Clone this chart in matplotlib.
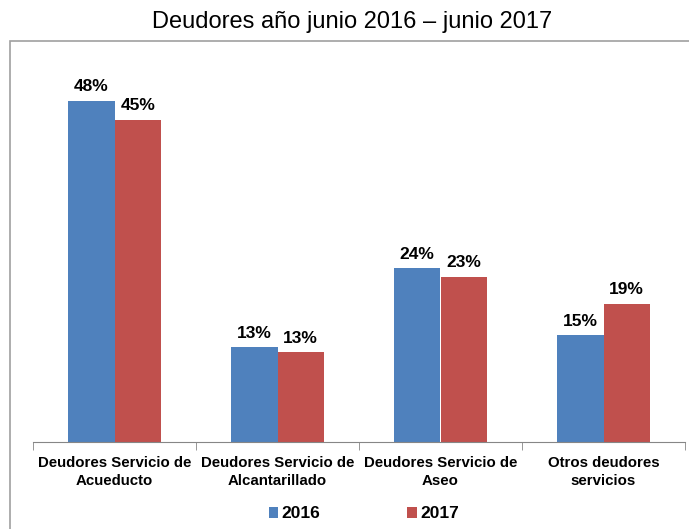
import numpy as np
import matplotlib.pyplot as plt
from matplotlib.patches import Rectangle

plt.rcParams['font.family'] = ['Liberation Sans', 'DejaVu Sans']

categorias = ["Deudores Servicio de\nAcueducto", "Deudores Servicio de\nAlcantarillado",
              "Deudores Servicio de\nAseo", "Otros deudores\nservicios"]
v2016 = [47.9, 13.3, 24.4, 15.0]
v2017 = [45.2, 12.6, 23.2, 19.4]
series = ["2016", "2017"]
colores = ["#4F81BD", "#C0504D"]

fig = plt.figure(figsize=(6.89, 5.29), dpi=100)
W, H = 689, 529

# marco gris del grafico (cortado a la derecha y abajo)
fig.patches.append(Rectangle((10 / W, -0.1), 1.2, 1.1 - 41 / H,
                             transform=fig.transFigure, fill=False,
                             edgecolor="#A0A0A0", linewidth=1.2))

ax = fig.add_axes([33 / W, (H - 442) / H, 652 / W, 382 / H])
x = np.arange(len(categorias))
w = 0.285
b1 = ax.bar(x - w / 2, v2016, w, color=colores[0], label=series[0])
b2 = ax.bar(x + w / 2, v2017, w, color=colores[1], label=series[1])

for bars in (b1, b2):
    for r in bars:
        ax.text(r.get_x() + r.get_width() / 2, r.get_height() + 0.9,
                "{:.0f}%".format(r.get_height()), ha="center", va="bottom",
                fontsize=12.5, fontweight="bold")

ax.set_xlim(-0.5, len(categorias) - 0.5)
ax.set_ylim(0, 53.6)
ax.set_yticks([])
for s in ("top", "right", "left"):
    ax.spines[s].set_visible(False)
ax.spines["bottom"].set_color("#868686")

ax.set_xticks(x)
ax.set_xticklabels(categorias, fontsize=10.8, fontweight="bold", linespacing=1.35)
ax.tick_params(axis="x", which="major", length=0, pad=10)
ax.set_xticks(np.arange(len(categorias) + 1) - 0.5, minor=True)
ax.tick_params(axis="x", which="minor", length=6, color="#868686")

fig.text(352 / W, 1 - 22 / H, "Deudores año junio 2016 – junio 2017",
         ha="center", va="center", fontsize=17)

fig.legend(loc="center", bbox_to_anchor=(364 / W, 1 - 514 / H), ncol=2,
           frameon=False, prop={"weight": "bold", "size": 12.5},
           handlelength=0.55, handleheight=0.55, handletextpad=0.2,
           columnspacing=5.0)

fig.savefig("out.png", dpi=100)
